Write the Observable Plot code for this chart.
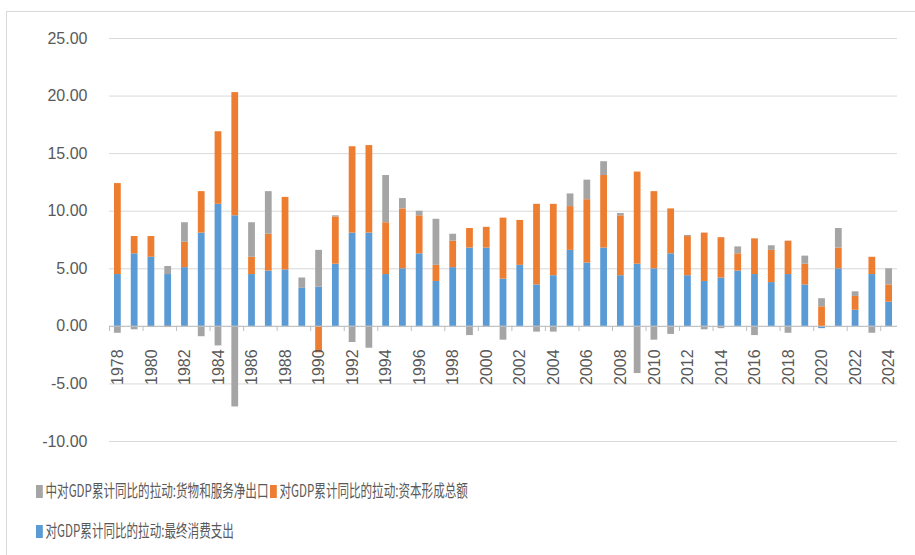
<!DOCTYPE html>
<html>
<head>
<meta charset="utf-8">
<script src="https://cdn.jsdelivr.net/npm/d3@7"></script>
<script src="https://cdn.jsdelivr.net/npm/@observablehq/plot@0.6"></script>
<style>
  body { margin: 0; background: #fff; }
  #wrap { position: relative; width: 915px; height: 555px; overflow: hidden; background: #fff; }
  #frame { position: absolute; left: 6px; top: 11px; width: 1000px; height: 1000px;
           border-left: 1.5px solid #d9d9d9; border-top: 1.5px solid #d9d9d9; }
  #chart { position: absolute; left: 0; top: 0; }
  .leg { position: absolute; font-family: "Noto Sans CJK SC", sans-serif; font-size: 17px; color: #595959;
         white-space: nowrap; transform: scaleX(0.68); transform-origin: 0 50%; line-height: 22px; }
  .sw { display: inline-block; width: 10px; height: 13px; margin-right: 4px; vertical-align: -1px; }
</style>
</head>
<body>
<div id="wrap">
  <div id="frame"></div>
  <div id="chart"></div>
  <div id="legend"></div>
</div>
<script>
const years = d3.range(1978, 2025);
const seriesNames = [
  "对GDP累计同比的拉动:最终消费支出",
  "对GDP累计同比的拉动:资本形成总额",
  "中对GDP累计同比的拉动:货物和服务净出口"
];
const seriesColors = ["#5B9BD5", "#ED7D31", "#A5A5A5"];

const consumption = [
  4.5, 6.3, 6.0, 4.5, 5.1, 8.1, 10.6, 9.6, 4.5, 4.8,
  4.9, 3.3, 3.4, 5.4, 8.1, 8.1, 4.5, 5.0, 6.3, 3.9,
  5.1, 6.8, 6.8, 4.1, 5.3, 3.6, 4.4, 6.6, 5.5, 6.8,
  4.4, 5.4, 5.0, 6.3, 4.4, 3.9, 4.2, 4.8, 4.5, 3.8,
  4.5, 3.6, -0.2, 5.0, 1.4, 4.5, 2.1
];
const capital = [
  7.9, 1.5, 1.8, -0.1, 2.2, 3.6, 6.3, 10.7, 1.5, 3.2,
  6.3, 0.0, -2.3, 4.1, 7.5, 7.6, 4.5, 5.2, 3.3, 1.4,
  2.3, 1.7, 1.8, 5.3, 3.9, 7.0, 6.2, 3.8, 5.5, 6.3,
  5.2, 8.0, 6.7, 3.9, 3.4, 4.2, 3.5, 1.5, 3.1, 2.8,
  2.9, 1.8, 1.7, 1.8, 1.2, 1.5, 1.5
];
const netExports = [
  -0.6, -0.3, -0.1, 0.7, 1.7, -0.9, -1.7, -7.0, 3.0, 3.7,
  0.0, 0.9, 3.2, 0.1, -1.4, -1.9, 4.1, 0.9, 0.4, 4.0,
  0.6, -0.8, -0.1, -1.2, 0.0, -0.5, -0.5, 1.1, 1.7, 1.2,
  0.2, -4.1, -1.2, -0.7, 0.1, -0.3, -0.2, 0.6, -0.8, 0.4,
  -0.6, 0.7, 0.7, 1.7, 0.4, -0.6, 1.4
];
const yTicks = [-10, -5, 0, 5, 10, 15, 20, 25];
const labelYears = years.filter(y => y % 2 === 0);

const seriesValues = [consumption, capital, netExports];
const rows = [];
years.forEach((yr, i) => {
  seriesValues.forEach((arr, k) => rows.push({year: yr, series: seriesNames[k], value: arr[i]}));
});

const chart = Plot.plot({
  width: 915,
  height: 470,
  marginLeft: 109,
  marginRight: 18,
  marginTop: 38,
  marginBottom: 29,
  style: {fontFamily: "'Liberation Sans', Arial, sans-serif", fontSize: "16px", color: "#595959", background: "transparent"},
  x: {type: "linear", domain: [1977.5, 2024.5], axis: null},
  y: {domain: [-10, 25], axis: null},
  color: {domain: seriesNames, range: seriesColors},
  marks: [
    Plot.gridY(yTicks, {stroke: "#d9d9d9", strokeOpacity: 1, strokeWidth: 1}),
    Plot.axisY(yTicks, {tickSize: 0, tickPadding: 22, tickFormat: d => d.toFixed(2), fill: "#595959", fontSize: 16, label: null}),
    Plot.rectY(rows, {
      x1: d => d.year - 0.5, x2: d => d.year + 0.5, y: "value", fill: "series",
      insetLeft: 5, insetRight: 5
    }),
    Plot.ruleY([0], {stroke: "#bfbfbf", strokeWidth: 1}),
    Plot.ruleX(labelYears, {x: d => d - 0.5, y1: 0, y2: -0.45, stroke: "#bfbfbf"}),
    Plot.text(labelYears, {
      x: d => d, y: 0, text: d => String(d), rotate: -90, textAnchor: "end",
      dy: 23, fontSize: 16, fill: "#595959"
    })
  ]
});
document.getElementById("chart").appendChild(chart);

// legend
const legendItems = [
  {k: 2, left: 36, top: 479},
  {k: 1, left: 270, top: 479},
  {k: 0, left: 36, top: 519}
];
const legend = document.getElementById("legend");
legendItems.forEach(it => {
  const div = document.createElement("div");
  div.className = "leg";
  div.style.left = it.left + "px";
  div.style.top = it.top + "px";
  const sw = document.createElement("span");
  sw.className = "sw";
  sw.style.background = seriesColors[it.k];
  div.appendChild(sw);
  div.appendChild(document.createTextNode(seriesNames[it.k]));
  legend.appendChild(div);
});
</script>
</body>
</html>
